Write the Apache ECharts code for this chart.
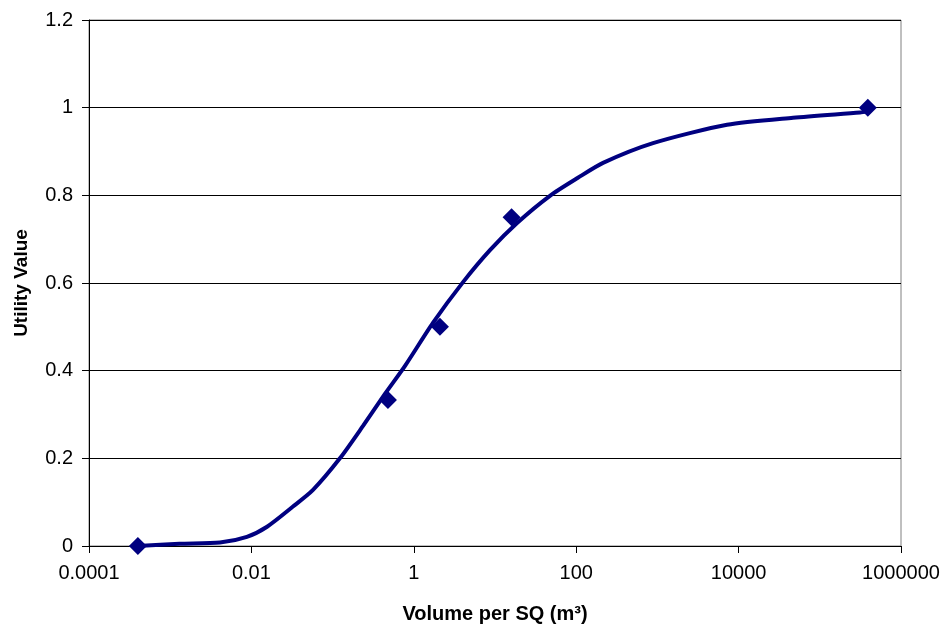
<!DOCTYPE html>
<html>
<head>
<meta charset="utf-8">
<script src="https://cdn.jsdelivr.net/npm/echarts@6/dist/echarts.min.js"></script>
<style>
html,body{margin:0;padding:0;background:#fff;}
#chart{width:945px;height:631px;}
</style>
</head>
<body>
<div id="chart"></div>
<script>
// Observed data points (diamonds)
const pointX = [0.0004, 0.48, 2.1, 16, 390000];
const pointY = [0, 0.333, 0.5, 0.75, 1.0];

// Fitted curve
const curveX = [0.0004, 0.0013, 0.0041, 0.0088, 0.0156, 0.0325, 0.0574, 0.123, 0.237, 0.441, 0.78, 1.72, 4.04, 8.67, 18.7, 47.5, 105, 214, 883, 7200, 46800, 313000, 390000];
const curveY = [0, 0.005, 0.008, 0.021, 0.044, 0.09, 0.128, 0.2, 0.274, 0.347, 0.411, 0.509, 0.602, 0.675, 0.737, 0.799, 0.84, 0.874, 0.919, 0.961, 0.977, 0.989, 0.991];

// Axis settings
const xMin = 0.0001, xMax = 1000000;
const yTicks = [0, 0.2, 0.4, 0.6, 0.8, 1, 1.2];
const xTitle = 'Volume per SQ (m\u00B3)';
const yTitle = 'Utility Value';

const chart = echarts.init(document.getElementById('chart'), null, {renderer: 'canvas'});
const font = 'Liberation Sans, Arial, Helvetica, sans-serif';
const navy = '#000080';

chart.setOption({
  animation: false,
  backgroundColor: '#ffffff',
  grid: {left: 89, right: 44, top: 20, bottom: 85, show: true, borderColor: '#808080', borderWidth: 1, backgroundColor: 'transparent'},
  xAxis: {
    type: 'log',
    logBase: 100,
    min: xMin,
    max: xMax,
    name: xTitle,
    nameLocation: 'middle',
    nameGap: 58,
    nameTextStyle: {fontFamily: font, fontSize: 20, fontWeight: 'bold', color: '#000'},
    axisLine: {show: true, onZero: false, lineStyle: {color: '#000', width: 1}},
    axisTick: {show: true, length: 7, lineStyle: {color: '#000'}},
    minorTick: {show: false},
    splitLine: {show: false},
    axisLabel: {
      fontFamily: font, fontSize: 20, color: '#000', margin: 17,
      formatter: function (v) {
        const e = Math.round(Math.log10(v));
        return e < 0 ? Math.pow(10, e).toFixed(-e) : String(Math.pow(10, e));
      }
    }
  },
  yAxis: {
    type: 'value',
    min: yTicks[0],
    max: yTicks[yTicks.length - 1],
    interval: 0.2,
    name: yTitle,
    nameLocation: 'middle',
    nameGap: 58,
    nameRotate: 90,
    nameTextStyle: {fontFamily: font, fontSize: 19, fontWeight: 'bold', color: '#000'},
    axisLine: {show: true, lineStyle: {color: '#000', width: 1}},
    axisTick: {show: true, length: 7, lineStyle: {color: '#000'}},
    splitLine: {show: true, lineStyle: {color: '#000', width: 1}},
    axisLabel: {
      fontFamily: font, fontSize: 20, color: '#000', margin: 16,
      formatter: function (v) { return String(Math.round(v * 10) / 10); }
    }
  },
  series: [
    {
      type: 'line',
      data: curveX.map((x, i) => [x, curveY[i]]),
      smooth: 0.25,
      showSymbol: false,
      symbol: 'none',
      lineStyle: {color: navy, width: 4},
      z: 2
    },
    {
      type: 'scatter',
      data: pointX.map((x, i) => [x, pointY[i]]),
      symbol: 'diamond',
      symbolSize: 18,
      itemStyle: {color: navy, opacity: 1},
      z: 3
    }
  ]
});
</script>
</body>
</html>
